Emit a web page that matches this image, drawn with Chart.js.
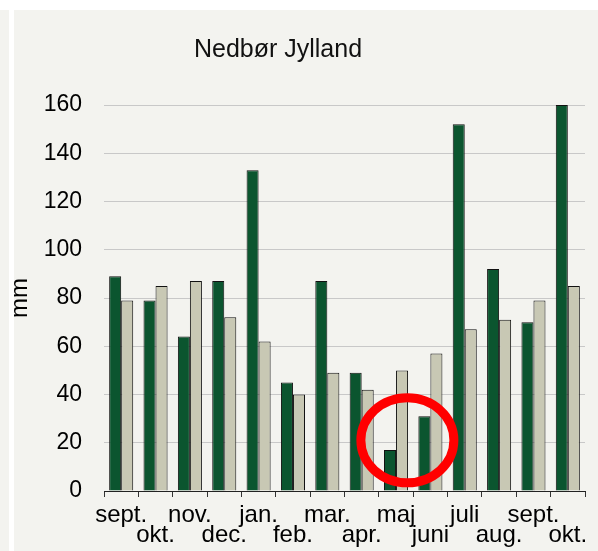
<!DOCTYPE html>
<html>
<head>
<meta charset="utf-8">
<script src="https://cdn.jsdelivr.net/npm/chart.js@4/dist/chart.umd.min.js"></script>
<style>
  html, body { margin: 0; padding: 0; background: #fff; }
  #wrap { position: absolute; left: 0; top: 0; width: 598px; height: 551px; }
</style>
</head>
<body>
<div id="wrap"><canvas id="nedbor" width="598" height="551"></canvas></div>
<script>
// måneder (sept. -> okt. året efter)
const months = ['sept.', 'okt.', 'nov.', 'dec.', 'jan.', 'feb.', 'mar.', 'apr.', 'maj', 'juni', 'juli', 'aug.', 'sept.', 'okt.'];
// nedbør i perioden (mm)
const actualMm = [89, 79, 64, 87, 133, 45, 87, 49, 17, 31, 152, 92, 70, 160];
// normal nedbør (mm)
const normalMm = [79, 85, 87, 72, 62, 40, 49, 42, 50, 57, 67, 71, 79, 85];
const yTicks = [0, 20, 40, 60, 80, 100, 120, 140, 160];
const chartTitle = 'Nedbør Jylland';
// rød ring omkring maj/juni (kategori-indeks, mm)
const ringAt = { x: 8.33, y: 21 };

const PANEL = '#f3f3ef';
const FONT = "'Liberation Sans', Arial, sans-serif";

// labels skiftevis i to rækker, som i Excel
const labels = months.map((m, i) => (i % 2 === 0 ? [m] : ['', m]));

const panelBg = {
  id: 'panelBg',
  beforeDraw(chart) {
    const c = chart.ctx;
    c.save();
    c.fillStyle = '#fff';
    c.fillRect(0, 0, chart.width, chart.height);
    c.fillStyle = PANEL;
    c.fillRect(0, 10, 9, chart.height - 10);
    c.fillRect(14, 10, chart.width - 14, chart.height - 10);
    // titel (Excel centrerer den over hele diagramfladen)
    c.fillStyle = '#111';
    c.font = '25px ' + FONT;
    c.textAlign = 'center';
    c.textBaseline = 'alphabetic';
    c.fillText(chartTitle, 278, 57);
    c.restore();
  }
};

const redRing = {
  id: 'redRing',
  afterDatasetsDraw(chart) {
    const { x, y } = chart.scales;
    const cx = x.getPixelForValue(ringAt.x);
    const cy = y.getPixelForValue(ringAt.y);
    const c = chart.ctx;
    c.save();
    c.strokeStyle = '#ff0000';
    c.lineWidth = 9;
    c.beginPath();
    c.ellipse(cx, cy, 46.5, 42.5, 0, 0, Math.PI * 2);
    c.stroke();
    c.restore();
  }
};

new Chart(document.getElementById('nedbor'), {
  type: 'bar',
  data: {
    labels: labels,
    datasets: [
      {
        label: 'Nedbør',
        data: actualMm,
        backgroundColor: '#0b552f',
        borderColor: '#111',
        borderWidth: 1,
        barPercentage: 1,
        categoryPercentage: 0.7,
      },
      {
        label: 'Normal',
        data: normalMm,
        backgroundColor: '#c8c8b4',
        borderColor: '#111',
        borderWidth: 1,
        barPercentage: 1,
        categoryPercentage: 0.7,
      },
    ],
  },
  options: {
    responsive: false,
    animation: false,
    devicePixelRatio: 1,
    layout: { padding: { left: 0, right: 13, top: 105, bottom: 0 } },
    plugins: {
      legend: { display: false },
      tooltip: { enabled: false },
      title: { display: false },
    },
    scales: {
      x: {
        grid: { display: true, drawOnChartArea: false, tickLength: 6, color: '#333', offset: true },
        border: { display: true, color: '#222', width: 1 },
        ticks: {
          color: '#000',
          autoSkip: false,
          maxRotation: 0,
          padding: 8,
          font: { family: FONT, size: 24, lineHeight: 0.84 },
        },
        afterFit(scale) { scale.height = 60; },
      },
      y: {
        min: 0,
        max: 160,
        afterBuildTicks(scale) { scale.ticks = yTicks.map(v => ({ value: v })); },
        grid: { color: '#c8c8c8', drawTicks: false, lineWidth: 1 },
        border: { display: false },
        ticks: {
          color: '#000',
          padding: 22,
          font: { family: FONT, size: 23 },
        },
        title: {
          display: true,
          text: 'mm',
          color: '#000',
          font: { family: FONT, size: 24 },
          padding: { top: 6, bottom: 0 },
        },
        afterFit(scale) { scale.width = 104; },
      },
    },
  },
  plugins: [panelBg, redRing],
});
</script>
</body>
</html>
